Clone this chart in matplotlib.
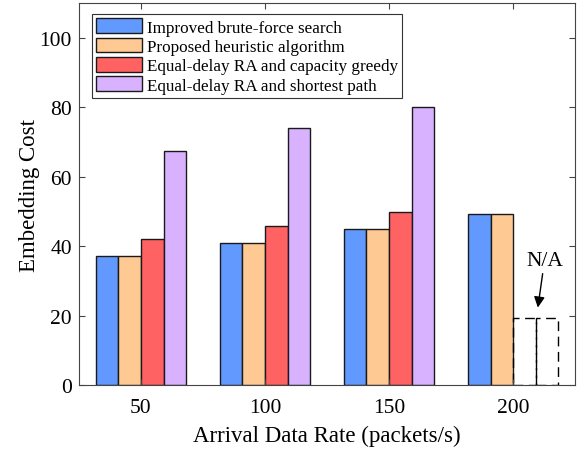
import matplotlib.pyplot as plt
import numpy as np

plt.rcParams['font.family'] = ['Liberation Serif', 'DejaVu Serif']

# Data
rates = ['50', '100', '150', '200']
brute_force = [37.2, 41.0, 45.0, 49.3]
heuristic = [37.2, 41.0, 45.0, 49.3]
capacity_greedy = [42.1, 45.8, 49.7]
shortest_path = [67.5, 74.0, 80.2]
na_height = 19.3

labels = ['Improved brute-force search', 'Proposed heuristic algorithm',
          'Equal-delay RA and capacity greedy', 'Equal-delay RA and shortest path']
colors = ['#6199ff', '#ffc993', '#ff6262', '#d8b1ff']

fig = plt.figure(figsize=(5.85, 4.52), dpi=100)
ax = fig.add_axes([0.135, 0.146, 0.848, 0.845])

x = np.arange(1, len(rates) + 1)
w = 0.727 / 4
offs = (np.arange(4) - 1.5) * w

series = [brute_force, heuristic, capacity_greedy, shortest_path]
for i, (vals, lab, c) in enumerate(zip(series, labels, colors)):
    ax.bar(x[:len(vals)] + offs[i], vals, w, color=c, edgecolor='#1a1a1a',
           linewidth=1.0, label=lab)

# missing results at rate 200
for i in (2, 3):
    ax.bar(x[3] + offs[i], na_height, w, facecolor='none', edgecolor='black',
           linewidth=1.0, linestyle=(0, (7, 4)))
ax.annotate('N/A', xy=(x[3] + 1.1 * w, na_height + 3), xytext=(x[3] + 1.4 * w, 36),
            ha='center', va='center', fontsize=15.5,
            arrowprops=dict(arrowstyle='-|>', color='black', lw=1.0,
                            mutation_scale=16, shrinkA=1, shrinkB=0))

ax.set_xlim(0.5, 4.5)
ax.set_ylim(0, 110)
ax.set_xticks(x)
ax.set_xticklabels(rates)
ax.set_yticks([0, 20, 40, 60, 80, 100])
ax.tick_params(direction='in', top=True, right=True, labelsize=15.5, length=4,
               color='#444444')
ax.tick_params(axis='x', pad=9)
ax.tick_params(axis='y', pad=5)
for s in ax.spines.values():
    s.set_color('#444444')
    s.set_linewidth(0.8)

ax.set_xlabel('Arrival Data Rate (packets/s)', fontsize=16.5, labelpad=6)
ax.set_ylabel('Embedding Cost', fontsize=16.5, labelpad=0)

leg = ax.legend(loc='upper left', bbox_to_anchor=(0.026, 0.971), fontsize=12.3,
                fancybox=False, edgecolor='#333333', framealpha=1,
                handlelength=2.7, handleheight=0.95, handletextpad=0.25,
                labelspacing=0.12, borderpad=0.25, borderaxespad=0)
leg.get_frame().set_linewidth(0.8)

fig.savefig('out.png', dpi=100)
